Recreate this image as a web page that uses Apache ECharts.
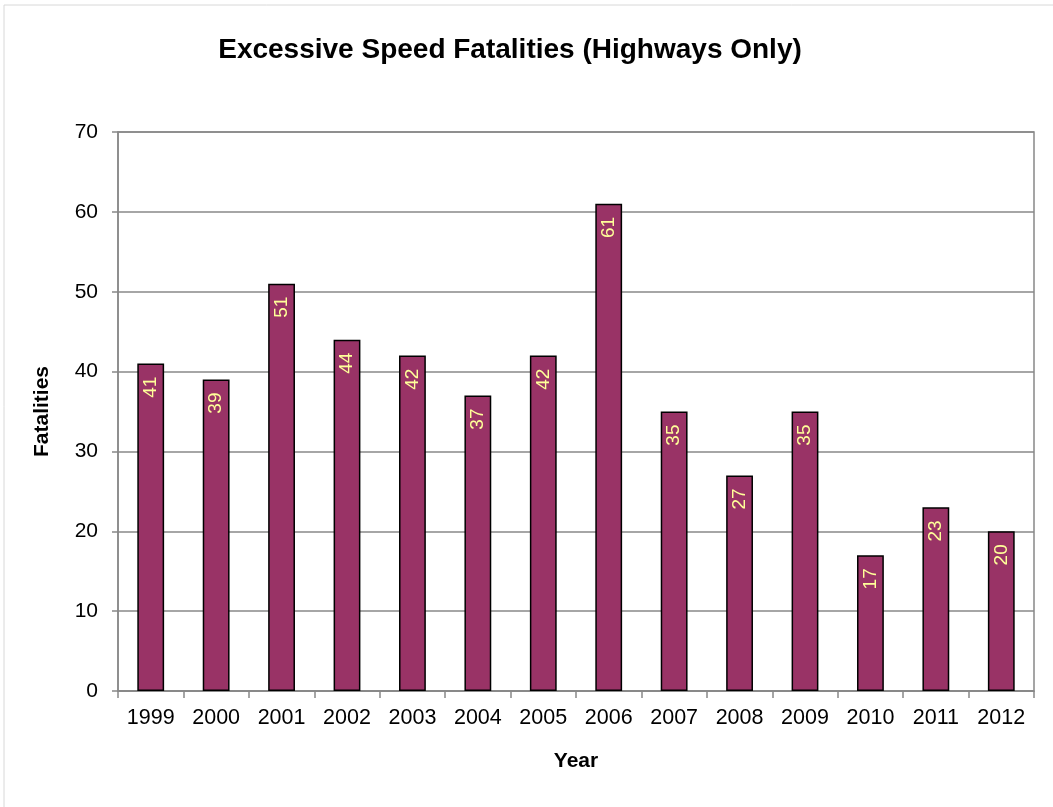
<!DOCTYPE html>
<html><head><meta charset="utf-8">
<script src="https://cdn.jsdelivr.net/npm/echarts@6/dist/echarts.min.js"></script>
<style>html,body{margin:0;padding:0;background:#fff}#c{width:1053px;height:807px}</style>
</head><body><div id="c"></div>
<script>
const years = ['1999','2000','2001','2002','2003','2004','2005','2006','2007','2008','2009','2010','2011','2012'];
const fatalities = [41,39,51,44,42,37,42,61,35,27,35,17,23,20];
const yTicks = {min:0, max:70, interval:10};

const chart = echarts.init(document.getElementById('c'));
chart.setOption({
  backgroundColor:'#fff',
  animation:false,
  title:{text:'Excessive Speed Fatalities (Highways Only)', left:505, top:31, textAlign:'center',
    textStyle:{fontFamily:'Liberation Sans, Arial', fontSize:28, fontWeight:'bold', color:'#000'}},
  graphic:[{type:'rect', shape:{x:4,y:5,width:1060,height:815}, style:{fill:'none', stroke:'#d8d8d8', lineWidth:1}, silent:true}],
  grid:{left:118, right:19, top:132, bottom:116, show:true, borderColor:'#888', borderWidth:1.5, backgroundColor:'transparent'},
  xAxis:{type:'category', data:years, name:'Year', nameLocation:'middle', nameGap:60,
    nameTextStyle:{fontFamily:'Liberation Sans, Arial', fontSize:21, fontWeight:'bold', color:'#000'},
    axisLine:{lineStyle:{color:'#888', width:1.5}},
    axisTick:{show:true, length:7, lineStyle:{color:'#888', width:1.5}},
    axisLabel:{fontFamily:'Liberation Sans, Arial', fontSize:21.5, color:'#000', margin:16}},
  yAxis:{type:'value', min:yTicks.min, max:yTicks.max, interval:yTicks.interval,
    name:'Fatalities', nameLocation:'middle', nameGap:65, nameRotate:90,
    nameTextStyle:{fontFamily:'Liberation Sans, Arial', fontSize:21, fontWeight:'bold', color:'#000'},
    axisLine:{show:true, lineStyle:{color:'#888', width:1.5}},
    axisTick:{show:true, length:6, lineStyle:{color:'#888', width:1.5}},
    splitLine:{lineStyle:{color:'#888', width:1.5}},
    axisLabel:{fontFamily:'Liberation Sans, Arial', fontSize:21, color:'#000', margin:20}},
  series:[{type:'bar', data:fatalities, barWidth:'41%',
    itemStyle:{color:'#993366', borderColor:'#000', borderWidth:1.5},
    label:{show:true, position:'insideTop', rotate:90, distance:13, align:'right', verticalAlign:'middle',
      color:'#ffff99', fontFamily:'Liberation Sans, Arial', fontSize:19}}]
});
</script></body></html>
